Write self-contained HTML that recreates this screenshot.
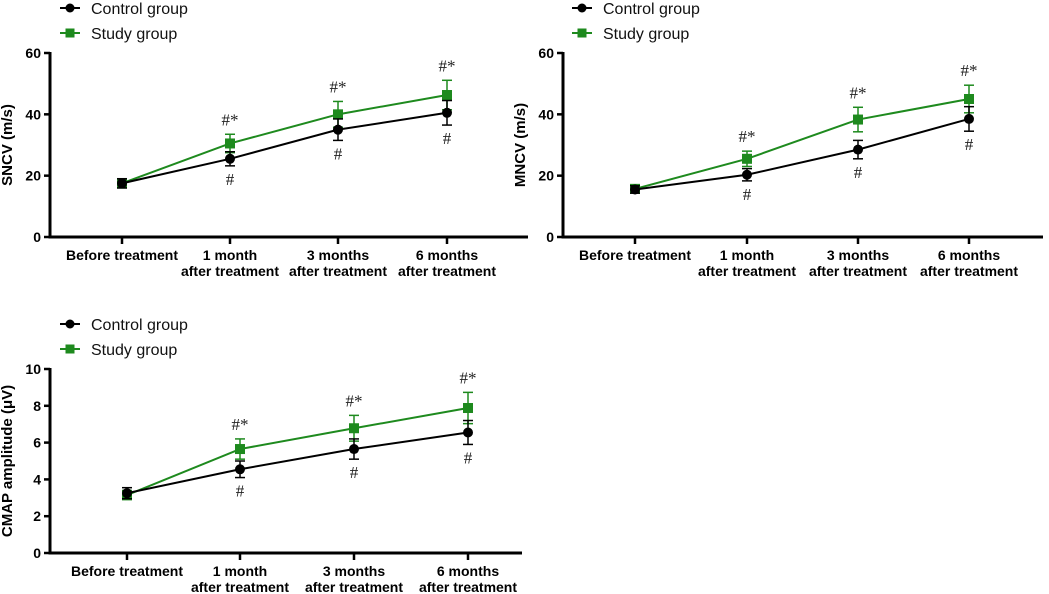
<!DOCTYPE html>
<html><head><meta charset="utf-8"><style>
body{margin:0;background:#fff;}
svg{display:block;font-family:"Liberation Sans",Arial,sans-serif;}
</style></head><body>
<svg id="s" width="1049" height="594" viewBox="0 0 1049 594"></svg>
<script>
const categories=["Before treatment","1 month|after treatment","3 months|after treatment","6 months|after treatment"];
const sncvControl=[17.5,25.5,35,40.5];
const sncvControlErr=[1.5,2.3,3.5,4];
const sncvStudy=[17.5,30.5,40,46.3];
const sncvStudyErr=[1.5,3,4.2,4.8];
const mncvControl=[15.5,20.3,28.5,38.5];
const mncvControlErr=[1.2,2,3,4];
const mncvStudy=[15.7,25.5,38.3,45];
const mncvStudyErr=[1.2,2.5,4,4.5];
const cmapControl=[3.25,4.55,5.65,6.55];
const cmapControlErr=[0.3,0.45,0.55,0.65];
const cmapStudy=[3.15,5.65,6.78,7.88];
const cmapStudyErr=[0.25,0.55,0.7,0.85];
const sncvTicks=[0,20,40,60];
const mncvTicks=[0,20,40,60];
const cmapTicks=[0,2,4,6,8,10];

const NS="http://www.w3.org/2000/svg";
const svg=document.getElementById('s');
function mk(tag,attrs,parent,text){const e=document.createElementNS(NS,tag);for(const k in attrs)e.setAttribute(k,attrs[k]);if(text!==undefined)e.textContent=text;(parent||svg).appendChild(e);return e;}
const GREEN="#1e8a1e";

function chart(cfg){
  const g=mk('g',{});
  
  
  const ymax=cfg.ticks[cfg.ticks.length-1];
  const y=v=>cfg.y0-(v/ymax)*(cfg.y0-cfg.yTop);
  const x=i=>cfg.xs[i];
  const lg=mk('g',{},g);
  
  
  const l1=mk('g',{},lg);
  
  
  mk('line',{x1:cfg.lx,x2:cfg.lx+20,y1:cfg.ly,y2:cfg.ly,stroke:'#000','stroke-width':2},l1);
  mk('circle',{cx:cfg.lx+10,cy:cfg.ly,r:4.5,fill:'#000'},l1);
  mk('text',{x:cfg.lx+31,y:cfg.ly+6,'font-size':16,fill:'#111'},l1,'Control group');
  const l2=mk('g',{},lg);
  
  
  mk('line',{x1:cfg.lx,x2:cfg.lx+20,y1:cfg.ly+25,y2:cfg.ly+25,stroke:GREEN,'stroke-width':2},l2);
  mk('rect',{x:cfg.lx+5.5,y:cfg.ly+20.5,width:9,height:9,fill:GREEN},l2);
  mk('text',{x:cfg.lx+31,y:cfg.ly+31,'font-size':16,fill:'#111'},l2,'Study group');
  const ax=mk('g',{},g);
  
  
  mk('line',{x1:cfg.ax,x2:cfg.ax,y1:cfg.yTop-1,y2:cfg.y0+1.5,stroke:'#000','stroke-width':3},ax);
  mk('line',{x1:cfg.ax-1.5,x2:cfg.axEnd,y1:cfg.y0,y2:cfg.y0,stroke:'#000','stroke-width':3},ax);
  cfg.ticks.forEach(t=>{
    mk('line',{x1:cfg.ax-6,x2:cfg.ax,y1:y(t),y2:y(t),stroke:'#000','stroke-width':2.5},ax);
    const tl=mk('text',{x:cfg.ax-9,y:y(t)+5,'font-size':14,'font-weight':'bold','text-anchor':'end'},ax,String(t));
    
    
  });
  categories.forEach((c,i)=>{
    mk('line',{x1:x(i),x2:x(i),y1:cfg.y0,y2:cfg.y0+7,stroke:'#000','stroke-width':2.5},ax);
    const parts=c.split('|');
    parts.forEach((p,k)=>{
      const tl=mk('text',{x:x(i),y:cfg.y0+23+k*16,'font-size':14,'font-weight':'bold','text-anchor':'middle'},ax,p);
      
      
    });
  });
  const yt=mk('text',{x:0,y:0,'font-size':15,'font-weight':'bold','text-anchor':'middle',transform:`translate(${cfg.ax-38},${(cfg.y0+cfg.yTop)/2}) rotate(-90)`},g,cfg.title);
  
  
  function series(vals,errs,color,shape,name){
    const sg=mk('g',{},g);
    
    
    mk('polyline',{points:vals.map((v,i)=>x(i)+','+y(v)).join(' '),fill:'none',stroke:color,'stroke-width':2},sg);
    vals.forEach((v,i)=>{
      const top=y(v+errs[i]),bot=y(v-errs[i]);
      mk('line',{x1:x(i),x2:x(i),y1:top,y2:bot,stroke:color,'stroke-width':1.5},sg);
      mk('line',{x1:x(i)-5,x2:x(i)+5,y1:top,y2:top,stroke:color,'stroke-width':1.5},sg);
      mk('line',{x1:x(i)-5,x2:x(i)+5,y1:bot,y2:bot,stroke:color,'stroke-width':1.5},sg);
      let m;
      if(shape==='c') m=mk('circle',{cx:x(i),cy:y(v),r:5,fill:color},sg);
      else m=mk('rect',{x:x(i)-5,y:y(v)-5,width:10,height:10,fill:color},sg);
      
      
      if(i>0){
        const a=shape==='c'?mk('text',{x:x(i),y:bot+19,'font-size':17,'text-anchor':'middle',fill:'#222','font-family':'Liberation Serif, serif'},sg,'#')
                          :mk('text',{x:x(i),y:top-9,'font-size':17,'text-anchor':'middle',fill:'#222','font-family':'Liberation Serif, serif'},sg,'#*');
        
        
      }
    });
  }
  series(cfg.sv,cfg.se,GREEN,'s','study-series');
  series(cfg.cv,cfg.ce,'#000','c','control-series');
}
chart({name:'sncv-chart',title:'SNCV (m/s)',ticks:sncvTicks,ax:50,axEnd:528,y0:237,yTop:53,xs:[122,230,338,447],lx:60,ly:8,cv:sncvControl,ce:sncvControlErr,sv:sncvStudy,se:sncvStudyErr});
chart({name:'mncv-chart',title:'MNCV (m/s)',ticks:mncvTicks,ax:563,axEnd:1043,y0:237,yTop:53,xs:[635,747,858,969],lx:572,ly:8,cv:mncvControl,ce:mncvControlErr,sv:mncvStudy,se:mncvStudyErr});
chart({name:'cmap-chart',title:'CMAP amplitude (μV)',ticks:cmapTicks,ax:50,axEnd:522,y0:553,yTop:369,xs:[127,240,354,468],lx:60,ly:324,cv:cmapControl,ce:cmapControlErr,sv:cmapStudy,se:cmapStudyErr});
</script>
</body></html>
